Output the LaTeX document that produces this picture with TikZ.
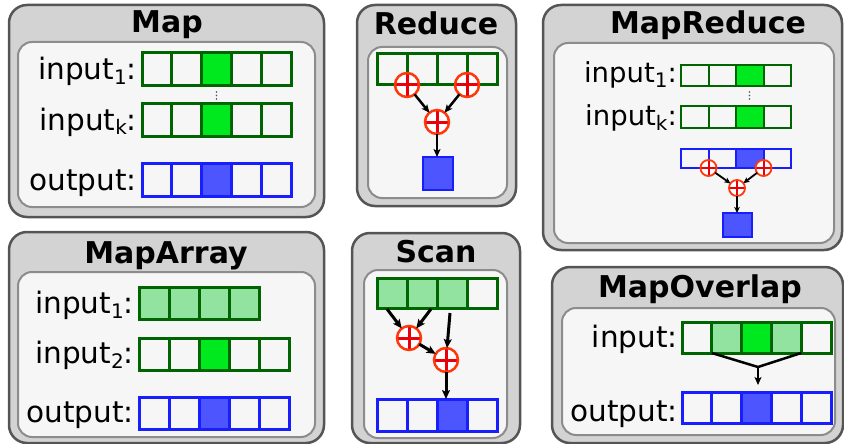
\documentclass[tikz,border=0pt]{standalone}
\usepackage{fontspec}
\setmainfont{DejaVu Sans}
\usetikzlibrary{arrows.meta,calc}

\definecolor{panelfill}{RGB}{211,211,211}
\definecolor{panelline}{RGB}{85,85,85}
\definecolor{innerfill}{RGB}{246,246,246}
\definecolor{innerline}{RGB}{140,140,140}
\definecolor{gline}{RGB}{0,100,0}
\definecolor{gbright}{RGB}{0,232,30}
\definecolor{glight}{RGB}{146,226,160}
\definecolor{bline}{RGB}{25,30,255}
\definecolor{bfill}{RGB}{77,85,255}
\definecolor{opline}{RGB}{255,55,10}
\definecolor{opplus}{RGB}{232,0,10}
\definecolor{dotgray}{RGB}{80,80,80}

% lowered small index after a label word
\newcommand\lowsub[1]{\raisebox{-5pt}{\fontsize{20}{20}\selectfont #1}}

\tikzset{
  panel/.style={draw=panelline, fill=panelfill, line width=2.5pt, rounded corners=18pt},
  inner/.style={draw=innerline, fill=innerfill, line width=2pt, rounded corners=14pt},
  title/.style={font=\fontsize{30}{36}\selectfont\bfseries, anchor=base, inner sep=0pt},
  lbl/.style={font=\fontsize{29.5}{35}\selectfont, anchor=base east, inner sep=0pt},
  lblsmall/.style={font=\fontsize{27.5}{33}\selectfont, anchor=base east, inner sep=0pt},
  cellsize/.style 2 args={minimum width=#1pt, minimum height=#2pt},
  gcell/.style={rectangle, draw=gline, line width=3pt, inner sep=0pt, outer sep=0pt},
  bcell/.style={rectangle, draw=bline, line width=3pt, inner sep=0pt, outer sep=0pt},
  opplusmark/.style={path picture={
      \draw[opplus, line width=#1]
        (path picture bounding box.north) -- (path picture bounding box.south)
        (path picture bounding box.west) -- (path picture bounding box.east);}},
  opbig/.style={circle, draw=opline, fill=white, line width=2.5pt, minimum size=24pt,
      inner sep=0pt, outer sep=0pt, opplusmark=3pt},
  opsmall/.style={circle, draw=opline, fill=white, line width=1.8pt, minimum size=16pt,
      inner sep=0pt, outer sep=0pt, opplusmark=2pt},
  arr/.style={-{Stealth[length=8pt,width=7pt,inset=2pt]}, line width=2.5pt},
  arrthin/.style={-{Stealth[length=6pt,width=5.5pt,inset=1.5pt]}, line width=1.8pt},
  arrthick/.style={-{Stealth[length=9pt,width=8pt,inset=2pt]}, line width=3pt},
}

\begin{document}
\begin{tikzpicture}[x=1pt,y=-1pt]
\useasboundingbox (0,0) rectangle (844,444);

% ---------------- Map ----------------
\draw[panel] (9,5) rectangle (324,217);
\draw[inner] (18,42) rectangle (315,207);
\node[title] (map-title) at (167,33) {Map};
\node[lbl] (map-l1) at (137,80) {input\lowsub{1}:};
\node[lbl] (map-lk) at (137,130) {input\lowsub{k}:};
\node[lbl] (map-lo) at (137,190) {output:};
\foreach \i/\f in {1/innerfill,2/innerfill,3/gbright,4/innerfill,5/innerfill}{
  \node[gcell, fill=\f, cellsize={29.8}{33}] (map-a\i) at ({142+(\i-0.5)*29.8},69.5) {};
  \node[gcell, fill=\f, cellsize={29.8}{33}] (map-b\i) at ({142+(\i-0.5)*29.8},120) {};
}
\foreach \i/\f in {1/innerfill,2/innerfill,3/bfill,4/innerfill,5/innerfill}
  \node[bcell, fill=\f, cellsize={29.8}{33}] (map-o\i) at ({142+(\i-0.5)*29.8},179.5) {};
\foreach \d in {92,95.5,99} \fill[dotgray] (216.5,\d) circle (0.9pt);

% ---------------- Reduce ----------------
\draw[panel] (357,5) rectangle (516,206);
\draw[inner] (368,47) rectangle (507,198);
\node[title] (red-title) at (436,35) {Reduce};
\foreach \i in {1,...,4}
  \node[gcell, fill=innerfill, cellsize={30}{31}] (red-a\i) at ({377+(\i-0.5)*30},69.5) {};
\node[opbig] (red-p1) at (red-a1.south east) {};
\node[opbig] (red-p2) at (red-a3.south east) {};
\node[opbig] (red-p3) at (437,122) {};
\node[bcell, fill=bfill, line width=2pt, cellsize={30}{33}] (red-out) at (438,173.5) {};
\draw[arr] (red-p1) -- (red-p3);
\draw[arr] (red-p2) -- (red-p3);
\draw[arr] (red-p3) -- (red-p3 |- red-out.north);

% ---------------- MapReduce ----------------
\draw[panel] (543,5) rectangle (842,250);
\draw[inner] (554,43) rectangle (834,243);
\node[title] (mr-title) at (708,34) {MapReduce};
\node[lblsmall] (mr-l1) at (677,83) {input\lowsub{1}:};
\node[lblsmall] (mr-lk) at (677,125) {input\lowsub{k}:};
\foreach \i/\f/\b in {1/innerfill/innerfill,2/innerfill/innerfill,3/gbright/bfill,4/innerfill/innerfill}{
  \node[gcell, fill=\f, line width=2pt, cellsize={27.5}{21}] (mr-a\i) at ({681+(\i-0.5)*27.5},75.5) {};
  \node[gcell, fill=\f, line width=2pt, cellsize={27.5}{22}] (mr-b\i) at ({681+(\i-0.5)*27.5},117) {};
  \node[bcell, fill=\b, line width=2pt, cellsize={27.5}{19}] (mr-o\i) at ({681+(\i-0.5)*27.5},158.5) {};
}
\foreach \d in {92,95.5,99} \fill[dotgray] (749.5,\d) circle (0.8pt);
\node[opsmall] (mr-p1) at (mr-o1.south east) {};
\node[opsmall] (mr-p2) at (mr-o3.south east) {};
\node[opsmall] (mr-p3) at ($(mr-o2.south east)+(1,20)$) {};
\node[bcell, fill=bfill, line width=2pt, cellsize={29}{24}] (mr-out) at (737,225) {};
\draw[arrthin] (mr-p1) -- (mr-p3);
\draw[arrthin] (mr-p2) -- (mr-p3);
\draw[arrthin] (mr-p3) -- (mr-p3 |- mr-out.north);

% ---------------- MapArray ----------------
\draw[panel] (9,232) rectangle (324,443);
\draw[inner] (18,272) rectangle (315,437);
\node[title] (ma-title) at (166,263) {MapArray};
\node[lbl] (ma-l1) at (134,313) {input\lowsub{1}:};
\node[lbl] (ma-l2) at (134,363) {input\lowsub{2}:};
\node[lbl] (ma-lo) at (134,422) {output:};
\foreach \i in {1,...,4}
  \node[gcell, fill=glight, cellsize={30.2}{32}] (ma-a\i) at ({139+(\i-0.5)*30.2},303) {};
\foreach \i/\f in {1/innerfill,2/innerfill,3/gbright,4/innerfill,5/innerfill}
  \node[gcell, fill=\f, cellsize={30}{32}] (ma-b\i) at ({139+(\i-0.5)*30},354) {};
\foreach \i/\f in {1/innerfill,2/innerfill,3/bfill,4/innerfill,5/innerfill}
  \node[bcell, fill=\f, cellsize={30}{32}] (ma-o\i) at ({139+(\i-0.5)*30},413) {};

% ---------------- Scan ----------------
\draw[panel] (352,233) rectangle (520,443);
\draw[inner] (364,270) rectangle (507,438);
\node[title] (sc-title) at (436,262) {Scan};
\foreach \i/\f in {1/glight,2/glight,3/glight,4/innerfill}
  \node[gcell, fill=\f, cellsize={30}{30}] (sc-a\i) at ({377+(\i-0.5)*30},293) {};
\foreach \i/\f in {1/innerfill,2/innerfill,3/bfill,4/innerfill}
  \node[bcell, fill=\f, cellsize={30}{32}] (sc-o\i) at ({377+(\i-0.5)*30},415) {};
\node[opbig] (sc-p1) at (409,338) {};
\node[opbig] (sc-p2) at (446,360) {};
\coordinate (sc-s1) at (387,309);
\coordinate (sc-s2) at (431,309);
\coordinate (sc-s3) at (450,313);
\draw[arrthick] (sc-s1) -- (sc-p1);
\draw[arrthick] (sc-s2) -- (sc-p1);
\draw[arrthick] (sc-s3) -- (sc-p2);
\draw[arrthick] (sc-p1) -- (sc-p2);
\draw[arrthick] (sc-p2) -- (sc-p2 |- sc-o3.north);

% ---------------- MapOverlap ----------------
\draw[panel] (552,267) rectangle (843,443);
\draw[inner] (562,308) rectangle (835,435);
\node[title] (mo-title) at (700,297) {MapOverlap};
\node[lbl] (mo-li) at (678,347) {input:};
\node[lbl] (mo-lo) at (678,421) {output:};
\foreach \i/\f in {1/innerfill,2/glight,3/gbright,4/glight,5/innerfill}
  \node[gcell, fill=\f, cellsize={29.8}{31}] (mo-a\i) at ({682+(\i-0.5)*29.8},337.5) {};
\foreach \i/\f in {1/innerfill,2/innerfill,3/bfill,4/innerfill,5/innerfill}
  \node[bcell, fill=\f, cellsize={29.8}{31}] (mo-o\i) at ({682+(\i-0.5)*29.8},407.5) {};
\coordinate (mo-j) at ($(mo-a3.south)+(1.5,14)$);
\draw[line width=2.5pt] (mo-a2.south west) -- (mo-j) -- (mo-a4.south east);
\draw[arr, shorten >=7pt] (mo-j) -- (mo-j |- mo-o3.north);
\end{tikzpicture}
\end{document}
